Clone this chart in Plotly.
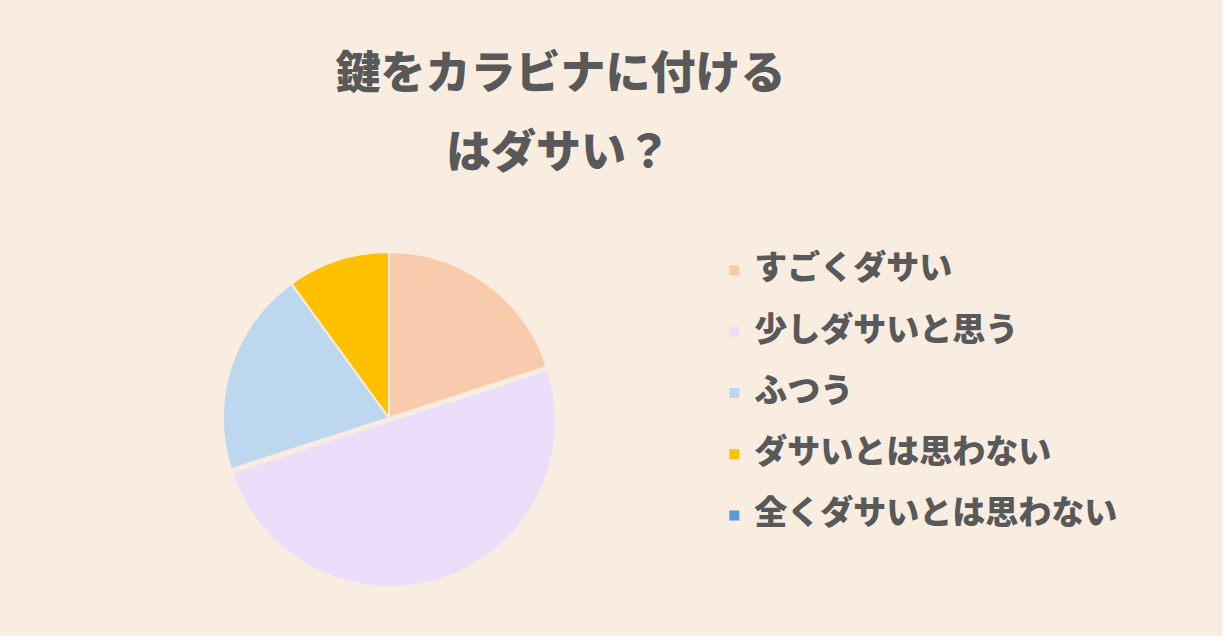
import plotly.graph_objects as go

labels = ["すごくダサい", "少しダサいと思う", "ふつう", "ダサいとは思わない", "全くダサいとは思わない"]
values = [20, 50, 20, 10, 0]
colors = ["#F8CBAD", "#ECDDFA", "#BDD7EE", "#FFC000", "#5B9BD5"]
pulls = [0, 0.02, 0, 0, 0]
title_lines = ["鍵をカラビナに付ける", "はダサい？"]

FONT = "Noto Sans CJK JP"
TEXT_COLOR = "#595959"
BG = "#F8EDE0"

legend_labels = [f"<span style='font-size:33px'>{l}</span><br>&nbsp;" for l in labels]

fig = go.Figure()
fig.add_trace(go.Pie(
    labels=legend_labels,
    values=values,
    sort=False,
    direction="clockwise",
    rotation=0,
    pull=pulls,
    marker=dict(colors=colors, line=dict(color=BG, width=2)),
    textinfo="none",
    hoverinfo="label+value",
    domain=dict(x=[0.1789, 0.4546], y=[0.0838, 0.6121]),
))

fig.update_layout(
    width=1228, height=641,
    margin=dict(l=0, r=0, t=0, b=0),
    paper_bgcolor="#FFFFFF",
    plot_bgcolor=BG,
    font=dict(family=FONT, color=TEXT_COLOR),
    title=dict(
        text=title_lines[0],
        x=0.4565, xanchor="center",
        y=1 - 73 / 641, yanchor="middle",
        font=dict(family=FONT, size=45, color=TEXT_COLOR, weight=900),
    ),
    annotations=[dict(
        text=title_lines[1],
        x=0.4545, xref="paper", xanchor="center",
        y=1 - 149 / 641, yref="paper", yanchor="middle",
        showarrow=False,
        font=dict(family=FONT, size=45, color=TEXT_COLOR, weight=900),
    )],
    legend=dict(
        x=0.5817, xanchor="left",
        y=1 - 249.5 / 641, yanchor="top",
        valign="top",
        bgcolor="rgba(0,0,0,0)",
        font=dict(family=FONT, size=22.4, color=TEXT_COLOR, weight=900),
        itemclick=False,
    ),
    shapes=[dict(
        type="rect", xref="paper", yref="paper",
        x0=0, x1=1 - 6 / 1228, y0=5 / 641, y1=1,
        fillcolor=BG, line=dict(width=0), layer="below",
    )],
)

fig.write_html("out.html", config={"displayModeBar": False},
               post_script="document.body.style.margin='0';")
